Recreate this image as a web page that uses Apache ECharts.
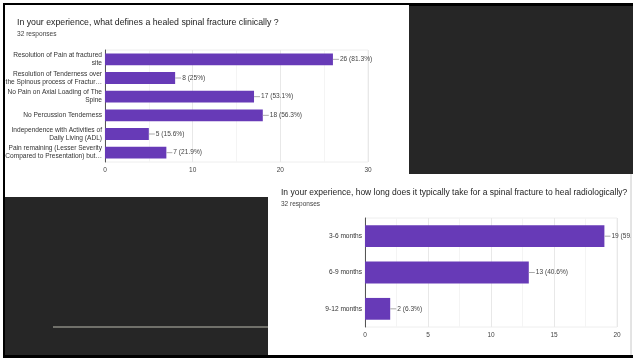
<!DOCTYPE html>
<html>
<head>
<meta charset="utf-8">
<script src="https://cdn.jsdelivr.net/npm/echarts@6/dist/echarts.min.js"></script>
<style>
  html, body { margin: 0; padding: 0; background: #fff; }
  #chart { width: 633px; height: 360px; }
</style>
</head>
<body>
<div id="chart"></div>
<script>
// chart 1 - clinical healing
var clinicalCats = [
    'Resolution of Pain at fractured\nsite',
    'Resolution of Tenderness over\nthe Spinous process of Fractur…',
    'No Pain on Axial Loading of The\nSpine',
    'No Percussion Tenderness',
    'Independence with Activities of\nDaily Living (ADL)',
    'Pain remaining (Lesser Severity\nCompared to Presentation) but…'
];
var clinicalVals = [26, 8, 17, 18, 5, 7];
var clinicalPct = ['81.3%', '25%', '53.1%', '56.3%', '15.6%', '21.9%'];
var clinicalTicks = [0, 10, 20, 30];

// chart 2 - radiological healing time
var radioCats = ['3-6 months', '6-9 months', '9-12 months'];
var radioVals = [19, 13, 2];
var radioPct = ['59.4%', '40.6%', '6.3%'];
var radioTicks = [0, 5, 10, 15, 20];

var titles = [
    'In your experience, what defines a healed spinal fracture clinically ?',
    'In your experience, how long does it typically take for a spinal fracture to heal radiologically?'
];
var responses = '32 responses';

var font = 'Liberation Sans, Arial, sans-serif';
var purple = '#673ab7';

function valueLabel(pcts) {
    return {
        show: true,
        position: 'right',
        distance: 0,
        formatter: function (p) {
            return '{ln| }{t|' + p.value + ' (' + pcts[p.dataIndex] + ')}';
        },
        rich: {
            ln: { width: 6, height: 1, backgroundColor: '#aaa', verticalAlign: 'middle' },
            t: { fontSize: 6.6, color: '#444', fontFamily: font, padding: [0, 0, 0, 1], verticalAlign: 'middle' }
        }
    };
}

function xAxisFor(idx, ticks) {
    return {
        type: 'value',
        gridIndex: idx,
        min: ticks[0],
        max: ticks[ticks.length - 1],
        interval: ticks[1] - ticks[0],
        axisLine: { show: false },
        axisTick: { show: false },
        axisLabel: { fontSize: 6.5, color: '#444', fontFamily: font, margin: 5 },
        splitLine: { lineStyle: { color: '#e8e8e8', width: 1 } },
        minorTick: { show: false, splitNumber: 2 },
        minorSplitLine: { show: true, lineStyle: { color: '#f4f4f4', width: 1 } }
    };
}

function yAxisFor(idx, cats) {
    return {
        type: 'category',
        gridIndex: idx,
        data: cats,
        inverse: true,
        axisLine: { lineStyle: { color: '#555', width: 1 } },
        axisTick: { show: false },
        axisLabel: { fontSize: 6.6, lineHeight: 8, color: '#333', fontFamily: font, margin: 3, align: 'right' }
    };
}

function titleFor(text, x, y, size, color) {
    return {
        text: text, left: x, top: y, padding: 0,
        textStyle: { fontSize: size, fontWeight: 'normal', color: color, fontFamily: font }
    };
}

var myChart = echarts.init(document.getElementById('chart'), null, { renderer: 'canvas' });

var option = {
    backgroundColor: '#fff',
    animation: false,
    title: [
        titleFor(titles[0], 17, 18, 8.75, '#222'),
        titleFor(responses, 17, 30.5, 6.6, '#444'),
        titleFor(titles[1], 281, 188, 8.5, '#222'),
        titleFor(responses, 281, 200.5, 6.5, '#444')
    ],
    graphic: [
        // frame + panels
        { type: 'rect', shape: { x: 3, y: 3, width: 630, height: 355 }, style: { fill: '#000' }, z: -10 },
        { type: 'rect', shape: { x: 5, y: 5, width: 404, height: 192 }, style: { fill: '#fff' }, z: -9 },
        { type: 'rect', shape: { x: 409, y: 6, width: 224, height: 168 }, style: { fill: '#262626' }, z: -9 },
        { type: 'rect', shape: { x: 5, y: 197, width: 263, height: 158 }, style: { fill: '#262626' }, z: -9 },
        { type: 'rect', shape: { x: 268, y: 174, width: 365, height: 181 }, style: { fill: '#fff' }, z: -9 },
        { type: 'line', shape: { x1: 53, y1: 327, x2: 268, y2: 327 }, style: { stroke: '#8a8a82', lineWidth: 1.5 }, z: -8 },
        // right edge of second panel (clips the cut-off label)
        { type: 'rect', shape: { x: 631, y: 174, width: 2, height: 181 }, style: { fill: '#fff' }, z: 100 },
        { type: 'line', shape: { x1: 631, y1: 174, x2: 631, y2: 355 }, style: { stroke: '#c8c8c8', lineWidth: 1 }, z: 101 }
    ],
    grid: [
        { left: 105, top: 50, width: 263, height: 112, show: true, borderColor: '#eee', borderWidth: 1 },
        { left: 365, top: 218, width: 252, height: 109, show: true, borderColor: '#eee', borderWidth: 1 }
    ],
    xAxis: [xAxisFor(0, clinicalTicks), xAxisFor(1, radioTicks)],
    yAxis: [yAxisFor(0, clinicalCats), yAxisFor(1, radioCats)],
    series: [
        {
            type: 'bar',
            xAxisIndex: 0,
            yAxisIndex: 0,
            data: clinicalVals,
            barCategoryGap: '37%',
            itemStyle: { color: purple },
            label: valueLabel(clinicalPct)
        },
        {
            type: 'bar',
            xAxisIndex: 1,
            yAxisIndex: 1,
            data: radioVals,
            barCategoryGap: '40%',
            itemStyle: { color: purple },
            label: valueLabel(radioPct)
        }
    ]
};

myChart.setOption(option);
</script>
</body>
</html>
